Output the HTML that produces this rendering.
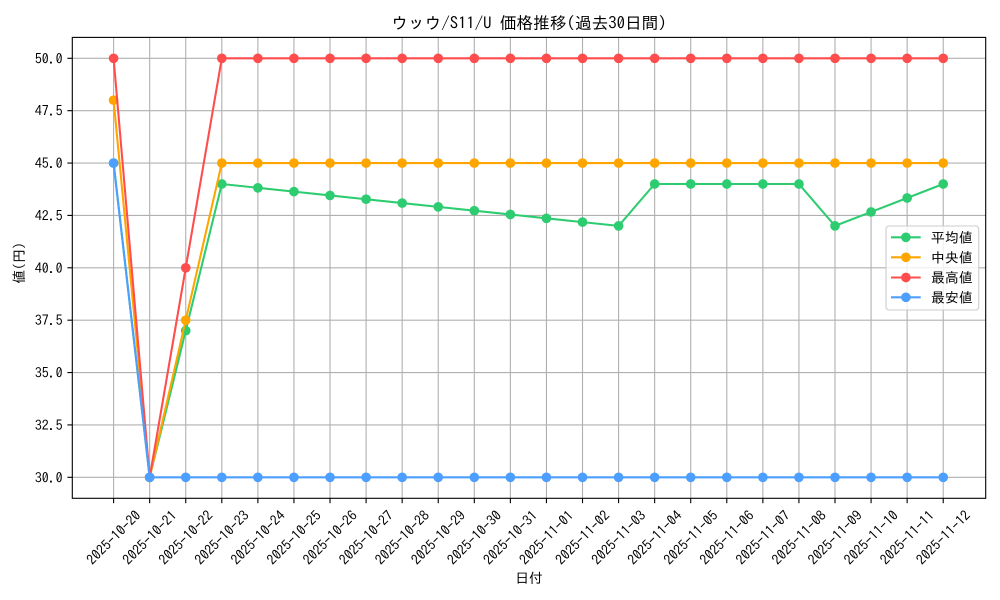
<!DOCTYPE html>
<html><head><meta charset="utf-8">
<style>
html,body{margin:0;padding:0;background:#fff;}
svg{display:block;font-family:"IPAGothic","Liberation Sans","Noto Sans CJK JP",sans-serif;}
</style></head>
<body>
<svg width="1000" height="600" viewBox="0 0 1000 600" xmlns="http://www.w3.org/2000/svg">
<defs>
<marker id="mg" markerWidth="12" markerHeight="12" refX="6" refY="6" markerUnits="userSpaceOnUse" viewBox="0 0 12 12"><circle cx="6" cy="6" r="4.85" fill="#2ecc71"/></marker>
<marker id="mo" markerWidth="12" markerHeight="12" refX="6" refY="6" markerUnits="userSpaceOnUse" viewBox="0 0 12 12"><circle cx="6" cy="6" r="4.85" fill="#ffa500"/></marker>
<marker id="mr" markerWidth="12" markerHeight="12" refX="6" refY="6" markerUnits="userSpaceOnUse" viewBox="0 0 12 12"><circle cx="6" cy="6" r="4.85" fill="#ff4d4d"/></marker>
<marker id="mb" markerWidth="12" markerHeight="12" refX="6" refY="6" markerUnits="userSpaceOnUse" viewBox="0 0 12 12"><circle cx="6" cy="6" r="4.85" fill="#4d9fff"/></marker>
</defs>
<rect x="0" y="0" width="1000" height="600" fill="#fff"/>

<!-- grid -->
<g stroke="#b0b0b0" stroke-width="1.1">
<line x1="113.6" y1="37.4" x2="113.6" y2="498.3"/>
<line x1="149.67" y1="37.4" x2="149.67" y2="498.3"/>
<line x1="185.74" y1="37.4" x2="185.74" y2="498.3"/>
<line x1="221.81" y1="37.4" x2="221.81" y2="498.3"/>
<line x1="257.88" y1="37.4" x2="257.88" y2="498.3"/>
<line x1="293.95" y1="37.4" x2="293.95" y2="498.3"/>
<line x1="330.02" y1="37.4" x2="330.02" y2="498.3"/>
<line x1="366.09" y1="37.4" x2="366.09" y2="498.3"/>
<line x1="402.16" y1="37.4" x2="402.16" y2="498.3"/>
<line x1="438.23" y1="37.4" x2="438.23" y2="498.3"/>
<line x1="474.3" y1="37.4" x2="474.3" y2="498.3"/>
<line x1="510.37" y1="37.4" x2="510.37" y2="498.3"/>
<line x1="546.44" y1="37.4" x2="546.44" y2="498.3"/>
<line x1="582.51" y1="37.4" x2="582.51" y2="498.3"/>
<line x1="618.58" y1="37.4" x2="618.58" y2="498.3"/>
<line x1="654.65" y1="37.4" x2="654.65" y2="498.3"/>
<line x1="690.72" y1="37.4" x2="690.72" y2="498.3"/>
<line x1="726.79" y1="37.4" x2="726.79" y2="498.3"/>
<line x1="762.86" y1="37.4" x2="762.86" y2="498.3"/>
<line x1="798.93" y1="37.4" x2="798.93" y2="498.3"/>
<line x1="835" y1="37.4" x2="835" y2="498.3"/>
<line x1="871.07" y1="37.4" x2="871.07" y2="498.3"/>
<line x1="907.14" y1="37.4" x2="907.14" y2="498.3"/>
<line x1="943.21" y1="37.4" x2="943.21" y2="498.3"/>
<line x1="72.3" y1="477.3" x2="985.7" y2="477.3"/>
<line x1="72.3" y1="424.93" x2="985.7" y2="424.93"/>
<line x1="72.3" y1="372.55" x2="985.7" y2="372.55"/>
<line x1="72.3" y1="320.18" x2="985.7" y2="320.18"/>
<line x1="72.3" y1="267.8" x2="985.7" y2="267.8"/>
<line x1="72.3" y1="215.43" x2="985.7" y2="215.43"/>
<line x1="72.3" y1="163.05" x2="985.7" y2="163.05"/>
<line x1="72.3" y1="110.68" x2="985.7" y2="110.68"/>
<line x1="72.3" y1="58.3" x2="985.7" y2="58.3"/>
</g>

<!-- series -->
<g fill="none" stroke-width="2.08" stroke-linejoin="round" stroke-linecap="square">
<polyline stroke="#2ecc71" marker-start="url(#mg)" marker-mid="url(#mg)" marker-end="url(#mg)" points="113.6,163.05 149.67,477.3 185.74,330.65 221.81,184 257.88,187.81 293.95,191.62 330.02,195.43 366.09,199.24 402.16,203.05 438.23,206.86 474.3,210.67 510.37,214.48 546.44,218.29 582.51,222.1 618.58,225.9 654.65,184 690.72,184 726.79,184 762.86,184 798.93,184 835,225.9 871.07,211.93 907.14,197.97 943.21,184"/>
<polyline stroke="#ffa500" marker-start="url(#mo)" marker-mid="url(#mo)" marker-end="url(#mo)" points="113.6,100.2 149.67,477.3 185.74,320.2 221.81,163.05 257.88,163.05 293.95,163.05 330.02,163.05 366.09,163.05 402.16,163.05 438.23,163.05 474.3,163.05 510.37,163.05 546.44,163.05 582.51,163.05 618.58,163.05 654.65,163.05 690.72,163.05 726.79,163.05 762.86,163.05 798.93,163.05 835,163.05 871.07,163.05 907.14,163.05 943.21,163.05"/>
<polyline stroke="#ff4d4d" marker-start="url(#mr)" marker-mid="url(#mr)" marker-end="url(#mr)" points="113.6,58.3 149.67,477.3 185.74,267.8 221.81,58.3 257.88,58.3 293.95,58.3 330.02,58.3 366.09,58.3 402.16,58.3 438.23,58.3 474.3,58.3 510.37,58.3 546.44,58.3 582.51,58.3 618.58,58.3 654.65,58.3 690.72,58.3 726.79,58.3 762.86,58.3 798.93,58.3 835,58.3 871.07,58.3 907.14,58.3 943.21,58.3"/>
<polyline stroke="#4d9fff" marker-start="url(#mb)" marker-mid="url(#mb)" marker-end="url(#mb)" points="113.6,163.05 149.67,477.3 185.74,477.3 221.81,477.3 257.88,477.3 293.95,477.3 330.02,477.3 366.09,477.3 402.16,477.3 438.23,477.3 474.3,477.3 510.37,477.3 546.44,477.3 582.51,477.3 618.58,477.3 654.65,477.3 690.72,477.3 726.79,477.3 762.86,477.3 798.93,477.3 835,477.3 871.07,477.3 907.14,477.3 943.21,477.3"/>
</g>

<!-- spines -->
<rect x="72.3" y="37.4" width="913.4" height="460.9" fill="none" stroke="#000" stroke-width="1.1"/>

<!-- ticks -->
<g stroke="#000" stroke-width="1.1">
<line x1="67.4" y1="477.3" x2="72.3" y2="477.3"/>
<line x1="67.4" y1="424.93" x2="72.3" y2="424.93"/>
<line x1="67.4" y1="372.55" x2="72.3" y2="372.55"/>
<line x1="67.4" y1="320.18" x2="72.3" y2="320.18"/>
<line x1="67.4" y1="267.8" x2="72.3" y2="267.8"/>
<line x1="67.4" y1="215.43" x2="72.3" y2="215.43"/>
<line x1="67.4" y1="163.05" x2="72.3" y2="163.05"/>
<line x1="67.4" y1="110.68" x2="72.3" y2="110.68"/>
<line x1="67.4" y1="58.3" x2="72.3" y2="58.3"/>
<line x1="113.6" y1="498.3" x2="113.6" y2="503.2"/>
<line x1="149.67" y1="498.3" x2="149.67" y2="503.2"/>
<line x1="185.74" y1="498.3" x2="185.74" y2="503.2"/>
<line x1="221.81" y1="498.3" x2="221.81" y2="503.2"/>
<line x1="257.88" y1="498.3" x2="257.88" y2="503.2"/>
<line x1="293.95" y1="498.3" x2="293.95" y2="503.2"/>
<line x1="330.02" y1="498.3" x2="330.02" y2="503.2"/>
<line x1="366.09" y1="498.3" x2="366.09" y2="503.2"/>
<line x1="402.16" y1="498.3" x2="402.16" y2="503.2"/>
<line x1="438.23" y1="498.3" x2="438.23" y2="503.2"/>
<line x1="474.3" y1="498.3" x2="474.3" y2="503.2"/>
<line x1="510.37" y1="498.3" x2="510.37" y2="503.2"/>
<line x1="546.44" y1="498.3" x2="546.44" y2="503.2"/>
<line x1="582.51" y1="498.3" x2="582.51" y2="503.2"/>
<line x1="618.58" y1="498.3" x2="618.58" y2="503.2"/>
<line x1="654.65" y1="498.3" x2="654.65" y2="503.2"/>
<line x1="690.72" y1="498.3" x2="690.72" y2="503.2"/>
<line x1="726.79" y1="498.3" x2="726.79" y2="503.2"/>
<line x1="762.86" y1="498.3" x2="762.86" y2="503.2"/>
<line x1="798.93" y1="498.3" x2="798.93" y2="503.2"/>
<line x1="835" y1="498.3" x2="835" y2="503.2"/>
<line x1="871.07" y1="498.3" x2="871.07" y2="503.2"/>
<line x1="907.14" y1="498.3" x2="907.14" y2="503.2"/>
<line x1="943.21" y1="498.3" x2="943.21" y2="503.2"/>
</g>

<!-- y tick labels -->
<g font-size="13.9" fill="#000" text-anchor="end" dominant-baseline="central">
<text x="62.6" y="477.3">30.0</text>
<text x="62.6" y="424.93">32.5</text>
<text x="62.6" y="372.55">35.0</text>
<text x="62.6" y="320.18">37.5</text>
<text x="62.6" y="267.8">40.0</text>
<text x="62.6" y="215.43">42.5</text>
<text x="62.6" y="163.05">45.0</text>
<text x="62.6" y="110.68">47.5</text>
<text x="62.6" y="58.3">50.0</text>
</g>

<!-- x tick labels -->
<g font-size="13.9" fill="#000" text-anchor="middle" dominant-baseline="central">
<text transform="translate(113.6,537.5) rotate(-45)">2025-10-20</text>
<text transform="translate(149.67,537.5) rotate(-45)">2025-10-21</text>
<text transform="translate(185.74,537.5) rotate(-45)">2025-10-22</text>
<text transform="translate(221.81,537.5) rotate(-45)">2025-10-23</text>
<text transform="translate(257.88,537.5) rotate(-45)">2025-10-24</text>
<text transform="translate(293.95,537.5) rotate(-45)">2025-10-25</text>
<text transform="translate(330.02,537.5) rotate(-45)">2025-10-26</text>
<text transform="translate(366.09,537.5) rotate(-45)">2025-10-27</text>
<text transform="translate(402.16,537.5) rotate(-45)">2025-10-28</text>
<text transform="translate(438.23,537.5) rotate(-45)">2025-10-29</text>
<text transform="translate(474.3,537.5) rotate(-45)">2025-10-30</text>
<text transform="translate(510.37,537.5) rotate(-45)">2025-10-31</text>
<text transform="translate(546.44,537.5) rotate(-45)">2025-11-01</text>
<text transform="translate(582.51,537.5) rotate(-45)">2025-11-02</text>
<text transform="translate(618.58,537.5) rotate(-45)">2025-11-03</text>
<text transform="translate(654.65,537.5) rotate(-45)">2025-11-04</text>
<text transform="translate(690.72,537.5) rotate(-45)">2025-11-05</text>
<text transform="translate(726.79,537.5) rotate(-45)">2025-11-06</text>
<text transform="translate(762.86,537.5) rotate(-45)">2025-11-07</text>
<text transform="translate(798.93,537.5) rotate(-45)">2025-11-08</text>
<text transform="translate(835,537.5) rotate(-45)">2025-11-09</text>
<text transform="translate(871.07,537.5) rotate(-45)">2025-11-10</text>
<text transform="translate(907.14,537.5) rotate(-45)">2025-11-11</text>
<text transform="translate(943.21,537.5) rotate(-45)">2025-11-12</text>
</g>

<!-- axis labels & title -->
<text x="529" y="583" font-size="13.9" text-anchor="middle" fill="#000">日付</text>
<text transform="translate(24,263) rotate(-90)" font-size="13.9" text-anchor="middle" fill="#000">値(円)</text>
<text x="529" y="29" font-size="16.7" text-anchor="middle" fill="#000">ウッウ/S11/U 価格推移(過去30日間)</text>

<!-- legend -->
<rect x="886" y="226" width="92.7" height="84" rx="3" fill="#fff" fill-opacity="0.8" stroke="#cccccc" stroke-width="1.1"/>
<g stroke-width="2.08">
<line x1="891" y1="237.3" x2="920.7" y2="237.3" stroke="#2ecc71"/>
<circle cx="905.9" cy="237.3" r="4.85" fill="#2ecc71" stroke="none"/>
<line x1="891" y1="257.3" x2="920.7" y2="257.3" stroke="#ffa500"/>
<circle cx="905.9" cy="257.3" r="4.85" fill="#ffa500" stroke="none"/>
<line x1="891" y1="277.5" x2="920.7" y2="277.5" stroke="#ff4d4d"/>
<circle cx="905.9" cy="277.5" r="4.85" fill="#ff4d4d" stroke="none"/>
<line x1="891" y1="297.3" x2="920.7" y2="297.3" stroke="#4d9fff"/>
<circle cx="905.9" cy="297.3" r="4.85" fill="#4d9fff" stroke="none"/>
</g>
<g font-size="13.9" fill="#000" dominant-baseline="central">
<text x="931" y="237.3">平均値</text>
<text x="931" y="257.3">中央値</text>
<text x="931" y="277.5">最高値</text>
<text x="931" y="297.3">最安値</text>
</g>
</svg>
</body></html>
